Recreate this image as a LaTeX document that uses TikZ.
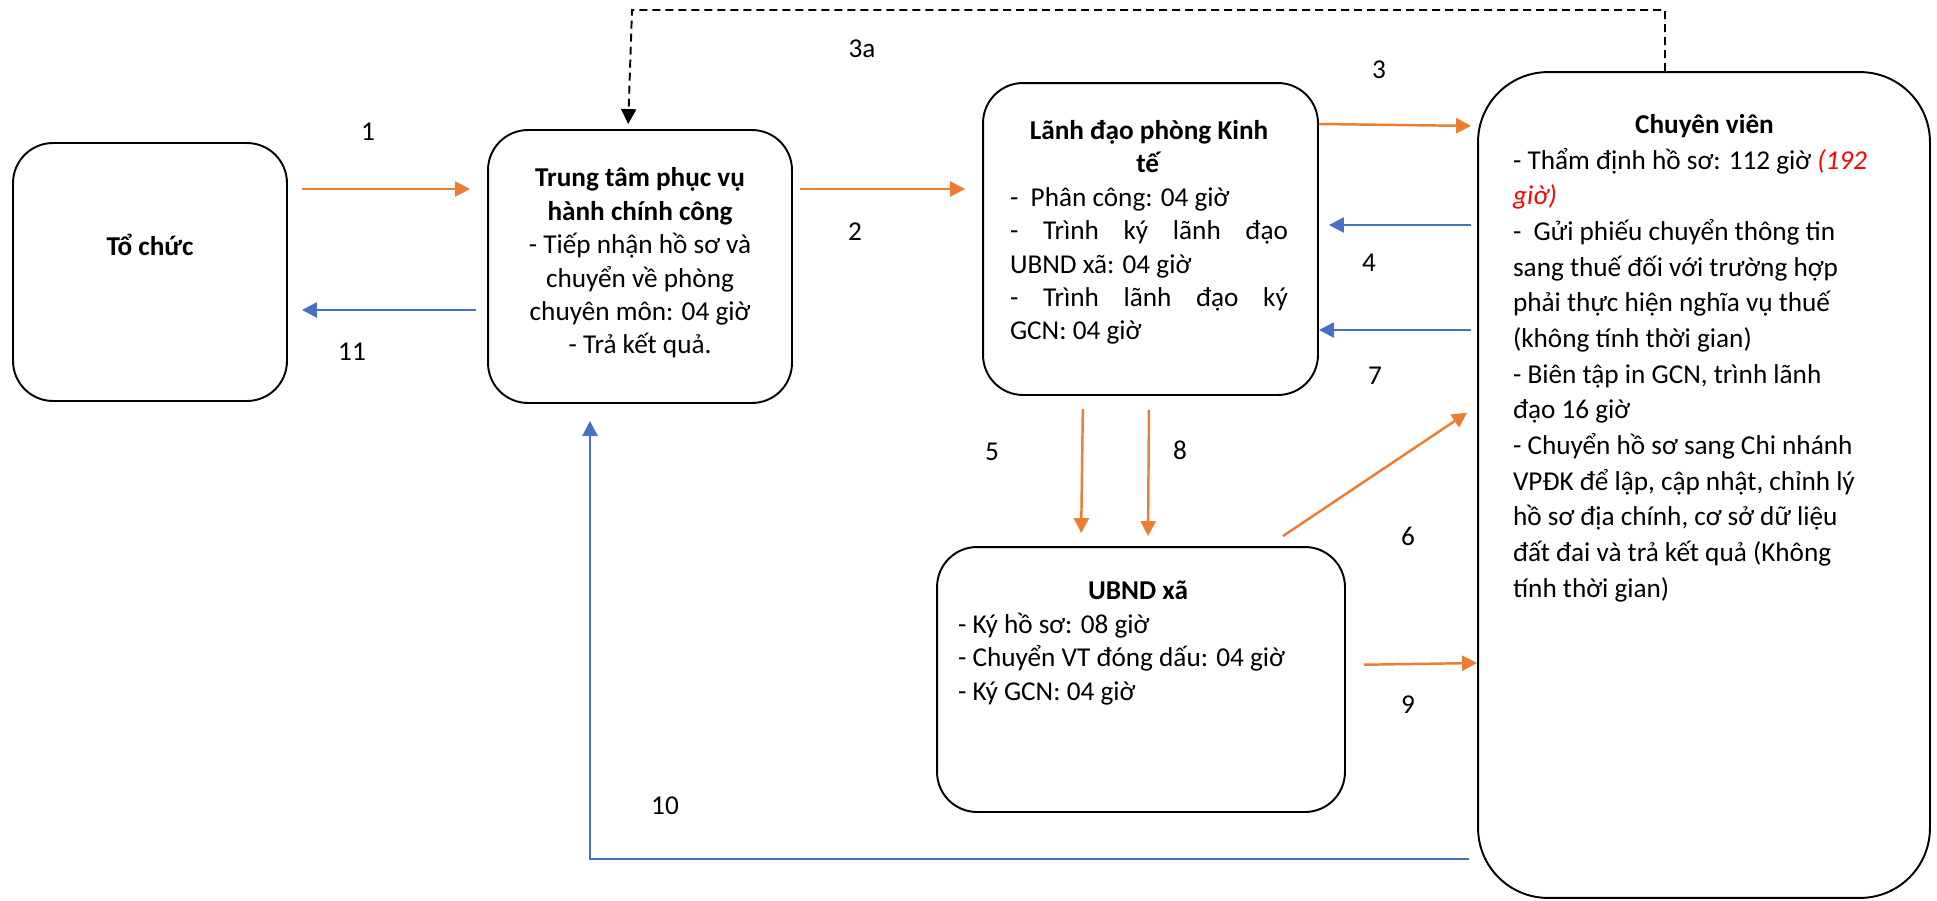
\documentclass[tikz,border=0pt]{standalone}
\usepackage{fontspec}
\setmainfont{Carlito}
\usetikzlibrary{arrows.meta}
\definecolor{arroworange}{HTML}{ED7D31}
\definecolor{arrowblue}{HTML}{4472C4}
\newcommand\boxfont{\fontsize{15.5}{19}\selectfont}
\newcommand\widefont{\fontsize{15.5}{20.3}\selectfont}

\begin{document}
\begin{tikzpicture}[x=0.02cm, y=-0.02cm,
        every node/.style={font=\boxfont, inner sep=0pt},
        box/.style={draw, line width=1.1pt, rounded corners=0.8cm},
        orangearrow/.style={draw=arroworange, line width=1.4pt, -{Triangle[length=0.3cm,width=0.3cm]}},
        bluearrow/.style={draw=arrowblue, line width=1.4pt, -{Triangle[length=0.3cm,width=0.3cm]}},
        dasharrow/.style={draw=black, line width=1.1pt, dash pattern=on 0.16cm off 0.1cm, -{Triangle[length=0.3cm,width=0.3cm]}}]
        \useasboundingbox (0,0) rectangle (1937,900);

        \node[box, minimum width=5.48cm, minimum height=5.16cm] (tochuc) at (150,272) {};
        \node[box, minimum width=6.08cm, minimum height=5.46cm] (trungtam) at (640,266.5) {};
        \node[box, minimum width=6.70cm, minimum height=6.24cm] (lanhdao) at (1150.5,239) {};
        \node[box, minimum width=8.16cm, minimum height=5.30cm] (ubnd) at (1141,679.5) {};
        \node[box, rounded corners=1.4cm, minimum width=9.04cm, minimum height=16.52cm] (chuyenvien) at (1704,485) {};

        \node[font=\boxfont\bfseries] (tochuc-txt) at (150,245) {Tổ chức};
        \node[align=center] (trungtam-txt) at (640,263) {\textbf{Trung tâm phục vụ}\\ \textbf{hành chính công}\\
                - Tiếp nhận hồ sơ và\\ chuyển về phòng\\ chuyên môn: 04 giờ\\ - Trả kết quả.};
        \node[align=left] (lanhdao-txt) at (1149,232.5) {\makebox[5.56cm]{\textbf{Lãnh đạo phòng Kinh}}\\
                \makebox[5.56cm]{\textbf{tế}}\\ -\ \ Phân công: 04 giờ\\
                \makebox[5.56cm][s]{- Trình ký lãnh đạo}\\ UBND xã: 04 giờ\\
                \makebox[5.56cm][s]{- Trình lãnh đạo ký}\\ GCN: 04 giờ};
        \node[align=left] (ubnd-txt) at (1138,643) {\makebox[7.2cm]{\textbf{UBND xã}}\\
                - Ký hồ sơ: 08 giờ\\ - Chuyển VT đóng dấu: 04 giờ\\ - Ký GCN: 04 giờ};
        \node[align=left, font=\widefont] (chuyenvien-txt) at (1704.5,358) {\makebox[7.66cm]{\textbf{Chuyên viên}}\\
                - Thẩm định hồ sơ: 112 giờ {\color{red}\itshape (192}\\ {\color{red}\itshape giờ)}\\
                -\ \ Gửi phiếu chuyển thông tin\\ sang thuế đối với trường hợp\\
                phải thực hiện nghĩa vụ thuế\\ (không tính thời gian)\\
                - Biên tập in GCN, trình lãnh\\ đạo 16 giờ\\
                - Chuyển hồ sơ sang Chi nhánh\\ VPĐK để lập, cập nhật, chỉnh lý\\
                hồ sơ địa chính, cơ sở dữ liệu\\ đất đai và trả kết quả (Không\\
                tính thời gian)};

        \draw[orangearrow, shorten <=0.28cm, shorten >=0.34cm] (tochuc.east |- 0,189) -- (trungtam.west |- 0,189);
        \draw[bluearrow, shorten <=0.22cm, shorten >=0.28cm] (trungtam.west |- 0,310) -- (tochuc.east |- 0,310);
        \draw[orangearrow, shorten <=0.14cm, shorten >=0.34cm] (trungtam.east |- 0,189) -- (lanhdao.west |- 0,189);
        \draw[orangearrow, shorten >=0.12cm] (lanhdao.east |- 0,124) -- (chuyenvien.west |- 0,126);
        \draw[bluearrow, shorten <=0.12cm, shorten >=0.2cm] (chuyenvien.west |- 0,225) -- (lanhdao.east |- 0,225);
        \draw[bluearrow, shorten <=0.12cm] (chuyenvien.west |- 0,330) -- (lanhdao.east |- 0,330);
        \draw[orangearrow, shorten <=0.26cm, shorten >=0.26cm] (lanhdao.south -| 1083,0) -- (ubnd.north -| 1081,0);
        \draw[orangearrow, shorten <=0.28cm, shorten >=0.2cm] (lanhdao.south -| 1149,0) -- (ubnd.north -| 1148,0);
        \draw[orangearrow, shorten <=0.36cm, shorten >=0.24cm] (ubnd.north -| 1268,0) -- (chuyenvien.west |- 0,406);
        \draw[orangearrow, shorten <=0.36cm] (ubnd.east |- 0,665) -- (chuyenvien.west |- 0,663);
        \draw[bluearrow, shorten <=0.16cm, shorten >=0.34cm] (chuyenvien.west |- 0,859) -| (trungtam.south -| 590,0);
        \coordinate (bend3a) at (632,10);
        \draw[dasharrow, shorten >=0.1cm] (chuyenvien.north -| 1665,0) |- (bend3a) -- (trungtam.north -| 628,0);

        \node (n1) at (368,132) {1};
        \node (n11) at (352,352) {11};
        \node (n2) at (855,232) {2};
        \node (n3a) at (862,49) {3a};
        \node (n3) at (1379,70) {3};
        \node (n4) at (1369,263) {4};
        \node (n7) at (1375,376) {7};
        \node (n5) at (992,452) {5};
        \node (n8) at (1180,450) {8};
        \node (n6) at (1408,536) {6};
        \node (n9) at (1408,705) {9};
        \node (n10) at (665,806) {10};
\end{tikzpicture}
\end{document}
